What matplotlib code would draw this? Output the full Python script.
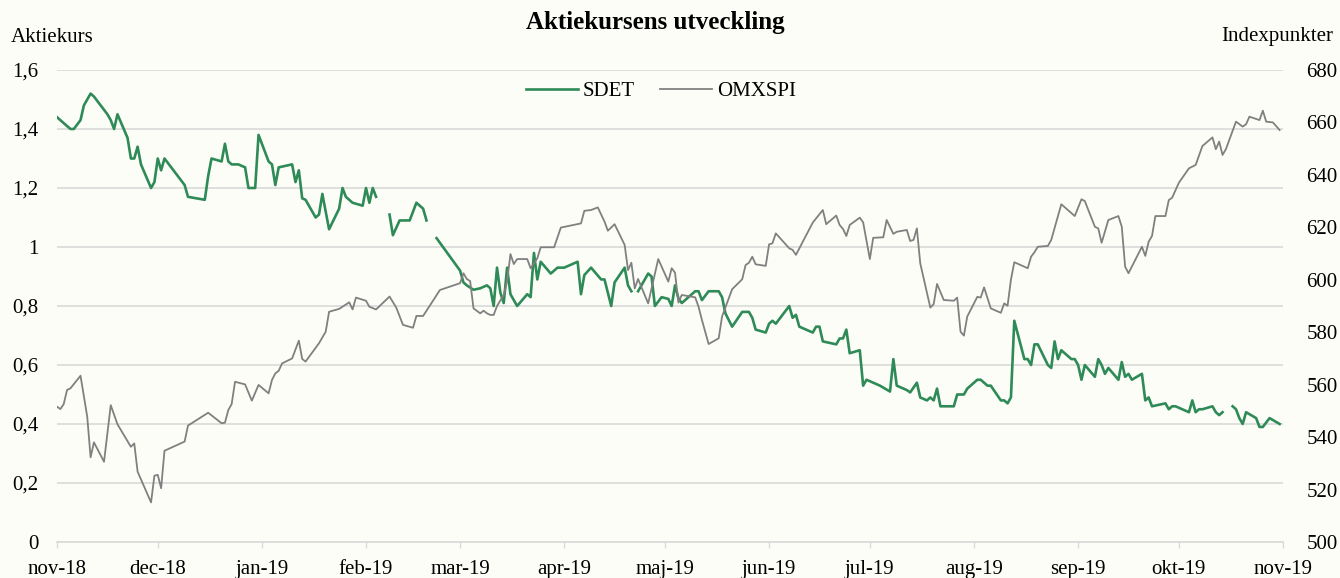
import matplotlib
matplotlib.use("Agg")
import matplotlib.pyplot as plt
from matplotlib.ticker import FixedLocator, FuncFormatter
from matplotlib.lines import Line2D
import numpy as np
import pandas as pd

# ---------------- data ----------------
START = "2018-11-01"            # day 0 of the day offsets below
X_END = "2019-11-01"

# SDET (left axis, SEK) - day offsets from START, None marks a gap in the line
sdet_day = [
    0, 1, 3, 4, 5, 7, 8, 10, 11, 15, 16, 17, 18, 21, 22, 23, 24, 25, 28, 29,
    30, 31, 32, 38, 39, 44, 45, 46, 49, 50, 51, 52, 54, 56, 57, 59, 60, 63, 64, 65,
    66, 70, 71, 72, 73, 74, 77, 78, 79, 81, 84, 85, 86, 88, 91, 92, 93, 94, 95,
    97,
    99, 100, 102, 105, 107, 109, 110,
    111,
    113, 120, 121, 122, 124, 126, 128, 129, 130, 131, 132, 133, 134, 135, 137, 140,
    141, 142, 143, 144, 147, 149, 151, 155, 156, 157, 159, 162, 163, 165, 166, 169,
    170, 171,
    172,
    173, 176, 177, 178, 180, 182, 183, 184, 185, 186, 190, 191, 192, 194, 197, 198,
    199, 201, 204, 206, 207, 208, 211, 212, 213, 214, 218, 219, 220, 221, 223, 225,
    226, 227, 228, 232, 233, 234, 235, 236, 239, 240, 241, 245, 248, 249, 250, 253,
    254, 256, 257, 259, 260, 261, 262, 263, 267, 268, 270, 271, 274, 275, 277, 278,
    281, 282, 283, 284, 285, 288, 289, 290, 291, 292, 295, 296, 297, 298, 299, 302,
    303, 304, 305, 306, 309, 310, 311, 312, 313, 316, 317, 318, 319, 320, 323, 324,
    325, 326, 330, 331, 332, 333, 335, 337, 338, 339, 340, 341, 344, 345, 346, 347,
    348,
    350, 351, 352, 353, 354, 357, 358, 359, 361, 364,
]
sdet_val = [
    1.44, 1.43, 1.41, 1.40, 1.40, 1.43, 1.48, 1.52, 1.51, 1.45, 1.43, 1.40, 1.45, 1.37, 1.30, 1.30, 1.34, 1.28, 1.20, 1.22,
    1.30, 1.26, 1.30, 1.21, 1.17, 1.16, 1.24, 1.30, 1.29, 1.35, 1.29, 1.28, 1.28, 1.27, 1.20, 1.20, 1.38, 1.29, 1.28, 1.21,
    1.27, 1.28, 1.22, 1.26, 1.165, 1.16, 1.10, 1.11, 1.18, 1.06, 1.13, 1.20, 1.17, 1.15, 1.14, 1.20, 1.15, 1.20, 1.17,
    None,
    1.11, 1.04, 1.09, 1.09, 1.15, 1.13, 1.09,
    None,
    1.03, 0.92, 0.88, 0.87, 0.855, 0.86, 0.87, 0.86, 0.80, 0.93, 0.845, 0.81, 0.93, 0.84, 0.80, 0.84,
    0.83, 0.98, 0.89, 0.95, 0.91, 0.93, 0.93, 0.95, 0.84, 0.905, 0.93, 0.89, 0.89, 0.80, 0.88, 0.93,
    0.87, 0.85,
    None,
    0.85, 0.91, 0.90, 0.80, 0.83, 0.824, 0.80, 0.87, 0.826, 0.81, 0.85, 0.85, 0.82, 0.85, 0.85, 0.83,
    0.775, 0.73, 0.78, 0.78, 0.76, 0.72, 0.71, 0.74, 0.75, 0.74, 0.80, 0.76, 0.77, 0.73, 0.72, 0.71,
    0.73, 0.73, 0.68, 0.67, 0.69, 0.69, 0.72, 0.64, 0.65, 0.53, 0.55, 0.53, 0.51, 0.62, 0.53, 0.515,
    0.507, 0.54, 0.49, 0.48, 0.49, 0.48, 0.52, 0.46, 0.46, 0.50, 0.50, 0.52, 0.55, 0.55, 0.53, 0.53,
    0.48, 0.48, 0.47, 0.49, 0.75, 0.62, 0.62, 0.60, 0.67, 0.67, 0.60, 0.59, 0.68, 0.62, 0.65, 0.62,
    0.62, 0.60, 0.55, 0.60, 0.56, 0.62, 0.60, 0.57, 0.59, 0.55, 0.61, 0.56, 0.57, 0.55, 0.57, 0.48,
    0.49, 0.46, 0.47, 0.45, 0.46, 0.46, 0.45, 0.44, 0.48, 0.44, 0.45, 0.45, 0.46, 0.44, 0.43, 0.44,
    None,
    0.46, 0.45, 0.42, 0.40, 0.44, 0.42, 0.39, 0.39, 0.42, 0.40,
]

# OMXSPI (right axis, index points) - day offsets from START
omx_day = [
    0, 1, 2, 3, 4, 7, 9, 10, 11, 14, 16, 18, 22, 23, 24, 28, 29, 30, 31, 32,
    38, 39, 45, 49, 50, 51, 52, 53, 56, 58, 60, 63, 64, 65, 66, 67, 70, 72, 73, 74,
    78, 80, 81, 84, 87, 88, 89, 92, 93, 95, 99, 101, 103, 106, 107, 109, 114, 120, 121, 122,
    123, 124, 126, 127, 128, 129, 130, 131, 133, 134, 135, 136, 137, 140, 141, 143, 144, 148, 150, 156,
    157, 159, 161, 163, 164, 166, 169, 170, 171, 172, 173, 176, 179, 182, 183, 184, 185, 186, 190, 191,
    192, 194, 197, 198, 201, 204, 205, 206, 207, 208, 211, 212, 213, 214, 218, 219, 220, 225, 228, 229,
    232, 233, 234, 235, 236, 239, 240, 242, 243, 246, 247, 249, 250, 253, 254, 255, 256, 257, 260, 261,
    262, 264, 267, 268, 269, 270, 271, 274, 275, 276, 278, 281, 282, 283, 284, 285, 289, 290, 291, 292,
    295, 296, 299, 303, 305, 306, 309, 310, 311, 313, 316, 317, 318, 319, 323, 324, 325, 326, 327, 330,
    331, 332, 334, 337, 339, 341, 344, 345, 346, 347, 348, 351, 353, 354, 355, 358, 359, 360, 362, 364,
]
omx_val = [
    551.6, 550.7, 552.6, 558.0, 558.6, 563.4, 547.8, 532.3, 538.0, 530.6,
    552.2, 544.9, 536.3, 537.6, 526.8, 515.1, 525.3, 525.6, 520.5, 534.8,
    538.3, 544.4, 549.3, 545.3, 545.5, 550.3, 552.6, 561.1, 560.1, 553.9,
    559.9, 556.7, 561.8, 564.3, 565.3, 568.1, 570.0, 576.8, 569.8, 568.8,
    575.8, 580.2, 587.8, 588.9, 591.4, 588.7, 593.2, 592.0, 589.7, 588.7,
    593.6, 589.4, 582.8, 581.7, 586.2, 586.2, 596.1, 598.7, 602.5, 600.3,
    599.5, 589.1, 587.2, 588.2, 587.2, 586.6, 586.6, 590.0, 594.2, 599.3,
    609.8, 606.0, 607.9, 607.9, 604.4, 608.2, 612.4, 612.4, 619.9, 621.5,
    626.3, 626.6, 627.6, 622.2, 618.7, 621.2, 613.3, 603.7, 606.5, 596.7,
    600.3, 591.0, 607.9, 599.3, 604.4, 602.7, 591.3, 594.2, 593.3, 589.7,
    584.7, 575.5, 577.7, 586.0, 596.4, 600.2, 605.6, 606.5, 608.8, 605.9,
    605.3, 613.5, 613.9, 617.7, 612.0, 611.4, 609.5, 621.8, 626.6, 621.2,
    624.5, 620.9, 619.4, 616.7, 620.9, 623.7, 621.9, 607.9, 616.0, 616.2,
    622.8, 617.5, 618.3, 619.0, 614.8, 615.2, 619.6, 606.3, 589.4, 590.7,
    598.4, 592.3, 592.0, 593.2, 580.2, 578.7, 586.0, 593.5, 593.2, 597.1,
    589.1, 587.4, 591.0, 590.1, 600.0, 606.7, 604.4, 608.8, 610.5, 612.6,
    612.9, 615.2, 628.8, 624.3, 630.7, 630.0, 620.2, 619.6, 614.1, 622.8,
    624.3, 620.2, 605.0, 602.5, 612.6, 609.1, 614.5, 616.7, 624.3, 624.3,
    630.4, 631.3, 637.0, 642.5, 643.8, 651.0, 654.3, 649.8, 652.7, 647.6,
    649.8, 660.3, 658.4, 659.3, 662.2, 660.9, 664.5, 660.3, 660.0, 657.1,
]

month_labels = ["nov-18", "dec-18", "jan-19", "feb-19", "mar-19", "apr-19", "maj-19",
                "jun-19", "jul-19", "aug-19", "sep-19", "okt-19", "nov-19"]
left_ticks = [0, 0.2, 0.4, 0.6, 0.8, 1.0, 1.2, 1.4, 1.6]
right_ticks = [500, 520, 540, 560, 580, 600, 620, 640, 660, 680]

TITLE = "Aktiekursens utveckling"
LEFT_LABEL = "Aktiekurs"
RIGHT_LABEL = "Indexpunkter"

# ---------------- style ----------------
BG = "#FDFDF8"
GREEN = "#2E8B57"
GRAY = "#808080"
GRID = "#D9D9D9"
FONT = ["Liberation Serif", "DejaVu Serif"]
plt.rcParams["font.family"] = FONT

start = pd.Timestamp(START)
sdet_dates = start + pd.to_timedelta(sdet_day, unit="D")
omx_dates = start + pd.to_timedelta(omx_day, unit="D")
sdet_arr = np.array([np.nan if v is None else v for v in sdet_val], dtype=float)
omx_arr = np.array(omx_val, dtype=float)

W, H = 1340, 578
fig = plt.figure(figsize=(W / 100, H / 100), dpi=100, facecolor=BG)
ax = fig.add_axes([57 / W, 1 - 542 / H, (1283 - 57) / W, (542 - 70) / H])
ax.set_facecolor(BG)
ax2 = ax.twinx()

ax.plot(sdet_dates, sdet_arr, color=GREEN, lw=1.9, solid_joinstyle="round", zorder=3)
ax2.plot(omx_dates, omx_arr, color=GRAY, lw=1.3, solid_joinstyle="round", zorder=3)

ax.set_xlim(pd.Timestamp(START), pd.Timestamp(X_END))
ax.set_ylim(0, 1.6)
ax2.set_ylim(500, 680)

month_pos = pd.date_range(START, X_END, freq="MS")
ax.set_xticks(month_pos)
ax.set_xticklabels(month_labels)

ax.yaxis.set_major_locator(FixedLocator(left_ticks))
ax.yaxis.set_major_formatter(FuncFormatter(lambda v, p: f"{v:g}".replace(".", ",")))
ax2.yaxis.set_major_locator(FixedLocator(right_ticks))
ax2.yaxis.set_major_formatter(FuncFormatter(lambda v, p: f"{v:g}"))

ax.grid(axis="y", color=GRID, lw=1.2, zorder=0)
ax.set_axisbelow(True)

for a in (ax, ax2):
    for s in ("top", "left", "right", "bottom"):
        a.spines[s].set_visible(False)
ax.spines["bottom"].set_visible(True)
ax.spines["bottom"].set_color(GRID)
ax.spines["bottom"].set_linewidth(1.2)

ax.tick_params(axis="x", length=4.3, width=1.0, color=GRID, pad=9, labelsize=15, labelcolor="black")
ax.tick_params(axis="y", length=0, pad=13.5, labelsize=15, labelcolor="black")
ax2.tick_params(axis="y", length=0, pad=17, labelsize=15, labelcolor="black")

fig.text(655 / W, 1 - 22 / H, TITLE, ha="center", va="center", fontsize=18, fontweight="bold")
fig.text(11 / W, 1 - 37 / H, LEFT_LABEL, ha="left", va="center", fontsize=15)
fig.text(1333 / W, 1 - 37 / H, RIGHT_LABEL, ha="right", va="center", fontsize=15)

handles = [Line2D([], [], color=GREEN, lw=1.9), Line2D([], [], color=GRAY, lw=1.3)]
fig.legend(handles, ["SDET", "OMXSPI"], loc="center", ncol=2,
           bbox_to_anchor=(661 / W, 1 - 91 / H), frameon=False, fontsize=15,
           handlelength=2.5, handletextpad=0.25, columnspacing=1.2)

fig.savefig("out.png", dpi=100, facecolor=BG)
